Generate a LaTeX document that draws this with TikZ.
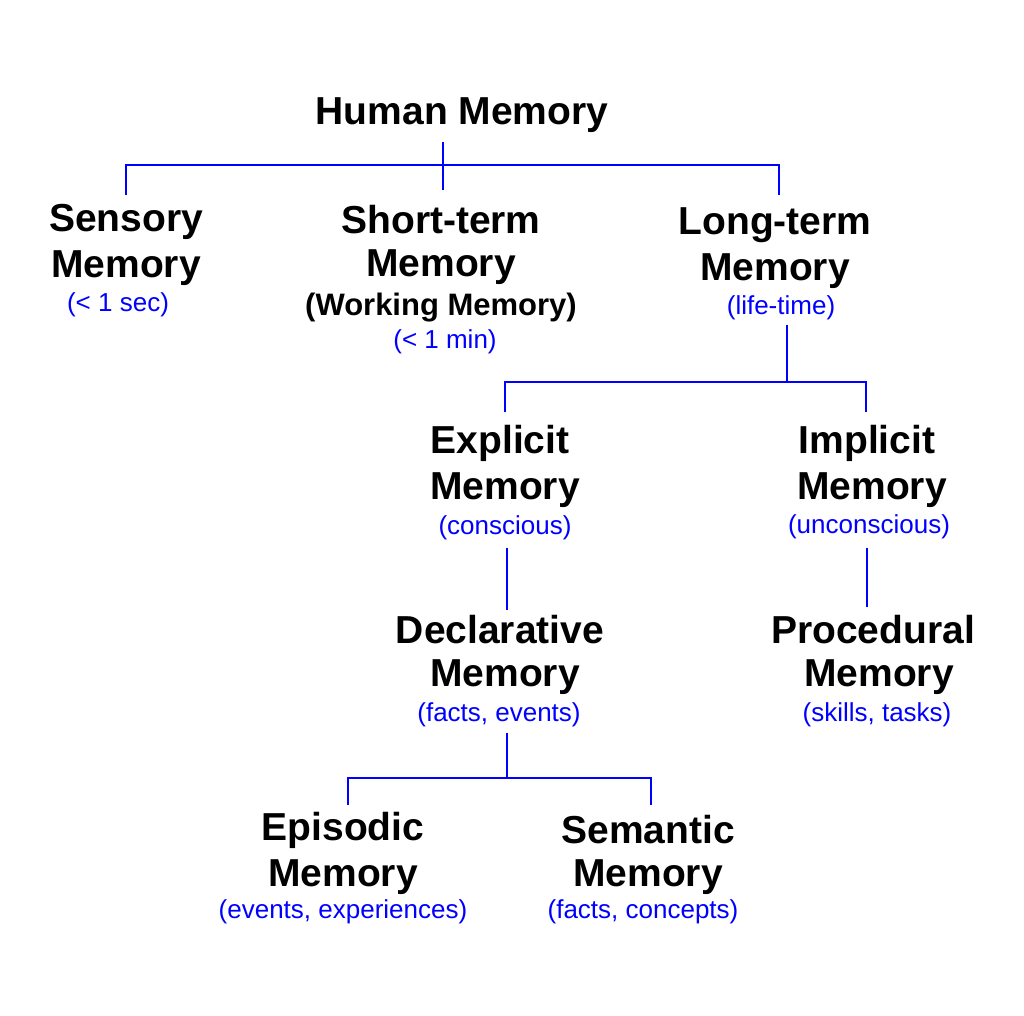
\documentclass[tikz,border=0pt]{standalone}
\usepackage{fontspec}
\setmainfont{Liberation Sans}
\begin{document}
\begin{tikzpicture}[x=1pt,y=-1pt,
  t/.style={font=\fontsize{39}{44}\selectfont\bfseries,inner sep=0pt,anchor=center},
  w/.style={font=\fontsize{31}{34}\selectfont\bfseries,inner sep=0pt},
  s/.style={font=\fontsize{26}{30}\selectfont,text=blue,inner sep=0pt},
  ln/.style={blue,line width=2pt}]
\useasboundingbox[fill=white] (0,0) rectangle (1024,1015);
\node[t] (hm) at (462,115) {Human Memory};
\node[t] (s1) at (126,222) {Sensory}; \node[t] (s2) at (126,268) {Memory}; \node[s] (s3) at (118,305) {(< 1 sec)};
\node[t] (st1) at (441,220) {Short-term}; \node[t] (st2) at (441,267) {Memory};
\node[w] (st3) at (441,308) {(Working Memory)}; \node[s] (st4) at (445,342) {(< 1 min)};
\node[t] (lt1) at (775,225) {Long-term}; \node[t] (lt2) at (775,271) {Memory}; \node[s] (lt3) at (781,308) {(life-time)};
\node[t] (ex1) at (500,443) {Explicit}; \node[t] (ex2) at (505,490) {Memory}; \node[s] (ex3) at (505,528) {(conscious)};
\node[t] (im1) at (867,443) {Implicit}; \node[t] (im2) at (872,490) {Memory}; \node[s] (im3) at (869,527) {(unconscious)};
\node[t] (de1) at (500,630) {Declarative}; \node[t] (de2) at (505,677) {Memory}; \node[s] (de3) at (499,715) {(facts, events)};
\node[t] (pr1) at (873,630) {Procedural}; \node[t] (pr2) at (879,677) {Memory}; \node[s] (pr3) at (877,715) {(skills, tasks)};
\node[t] (ep1) at (343,830) {Episodic}; \node[t] (ep2) at (343,877) {Memory}; \node[s] (ep3) at (343,912) {(events, experiences)};
\node[t] (se1) at (648,830) {Semantic}; \node[t] (se2) at (648,877) {Memory}; \node[s] (se3) at (643,912) {(facts, concepts)};
\coordinate (a) at (443,142);
\draw[ln] (a) -- (443,190);
\draw[ln] (126,195) -- (126,165) -- (779,165) -- (779,195);
\draw[ln] (787,325) -- (787,382);
\draw[ln] (505,412) -- (505,382) -- (866,382) -- (866,412);
\draw[ln] (507,548) -- (507,610);
\draw[ln] (867,548) -- (867,607);
\draw[ln] (507,733) -- (507,778);
\draw[ln] (348,805) -- (348,778) -- (651,778) -- (651,805);
\end{tikzpicture}
\end{document}
